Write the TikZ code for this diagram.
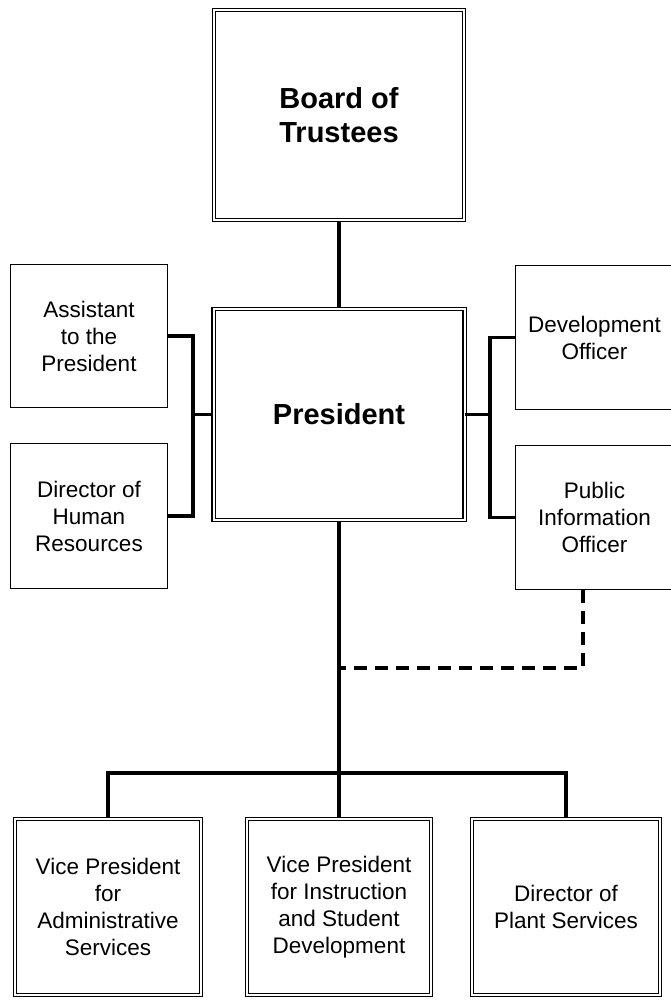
\documentclass[tikz,border=0pt]{standalone}
\usepackage{fontspec}
\setmainfont{Liberation Sans}
\tikzset{every picture/.style = {x=1pt, y=-1pt}}
\tikzset{box/.style = {draw, line width=0.8pt, inner sep=0, align=center, font=\fontsize{22.5}{27}\selectfont}}
\tikzset{dbox/.style = {box, double, line width=1.1pt, double distance=2pt}}
\tikzset{head/.style = {dbox, font=\bfseries\fontsize{29}{34}\selectfont}}
\tikzset{link/.style = {line width=3.4pt}}
\tikzset{weak/.style = {link, dash pattern=on 13pt off 8pt}}

\begin{document}
\begin{tikzpicture}
  \useasboundingbox (0, 0) rectangle (670, 1000);
  \node[head, minimum width=250pt, minimum height=210pt] (board) at (339, 115) {Board of\\Trustees};
  \node[head, minimum width=251pt, minimum height=211pt] (pres) at (339, 414.5) {President};
  \node[box, minimum width=157pt, minimum height=143pt] (asst) at (89, 336) {Assistant\\to the\\President};
  \node[box, minimum width=157pt, minimum height=145pt] (hr) at (89, 516) {Director of\\Human\\Resources};
  \node[box, minimum width=159pt, minimum height=144pt] (devel) at (594.5, 337.5) {Development\\Officer};
  \node[box, minimum width=159pt, minimum height=144pt] (pio) at (594.5, 517.5) {Public\\Information\\Officer};
  \node[dbox, minimum width=186pt, minimum height=176pt] (vpa) at (108, 907) {Vice President\\for\\Administrative\\Services};
  \node[dbox, minimum width=184pt, minimum height=176pt] (vpi) at (339, 907) {Vice President\\for Instruction\\and Student\\Development};
  \node[dbox, minimum width=188pt, minimum height=176pt] (plant) at (566, 907) {Director of\\Plant Services};
  \coordinate (lbus) at (193, 414.5);
  \coordinate (rbus) at (490, 414.5);
  \coordinate (bus) at (339, 773);
  \coordinate (dcorner) at (583, 668);
  \draw[link] (board) -- (pres);
  \draw[link] (asst.east) -| (lbus) |- (hr.east);
  \draw[link] (lbus) -- (pres.west);
  \draw[link] (devel.west) -| (rbus) |- (pio.west);
  \draw[link] (rbus) -- (pres.east);
  \draw[link] (pres) -- (vpi);
  \draw[link] (vpa.north) |- (bus) -| (plant.north);
  \draw[weak] (pio.south -| dcorner) -- (dcorner) -- (dcorner -| pres.south);
\end{tikzpicture}
\end{document}
